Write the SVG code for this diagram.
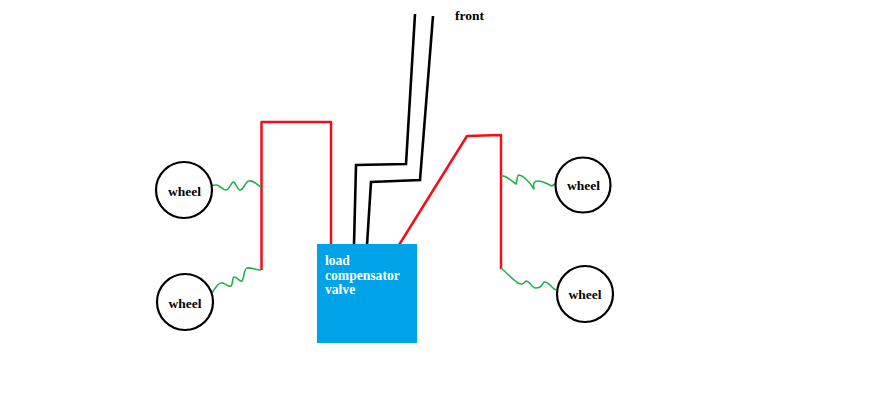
<svg xmlns="http://www.w3.org/2000/svg" width="895" height="400" viewBox="0 0 895 400">
<style>
.w{fill:#fff;stroke:#000;stroke-width:2.2}
.t{font-family:"Liberation Serif",serif;font-weight:bold;font-size:13.500px;fill:#000}
.v{font-family:"Liberation Serif",serif;font-weight:bold;font-size:13.600px;fill:#fff}
.r{fill:none;stroke:#f50d1a;stroke-width:2.500;stroke-linejoin:round}
.k{fill:none;stroke:#000;stroke-width:2.600;stroke-linejoin:miter}
.g{fill:none;stroke:#22b14c;stroke-width:1.600;stroke-linejoin:round}
</style>
<rect width="895" height="400" fill="#fff"/>
<g id="connectors">
<path class="r" d="M261.500 270V122H331V245"/>
<path class="r" d="M399 245L467 136L501 135V269"/>
<path class="k" d="M415 14L406 164L356 165L354 245"/>
<path class="k" d="M433 16L420 180L371 182L367 245"/>
<path class="g" d="M210 186C214 185 217 184 219 186C222 188 224 190 226 190C229 190 231 183 233 182C236 182 237 190 240 190C244 190 245 181 249 181C254 180 257 185 261 187"/>
<path class="g" d="M212 293C215 288 218 283 221 283C224 282 227 287 231 286C233 285 232 277 234 277C237 277 240 282 242 281C244 279 244 268 247 268C251 267 255 270 261 270"/>
<path class="g" d="M501 176C506 175 510 180 516 184C518 177 517 175 519 175C525 176 530 183 534 189C533 183 534 181 538 181C544 181 547 184 552 186L556 183"/>
<path class="g" d="M501 268C507 273 512 279 518 283C523 285 521 284 524 283L526 281C530 281 531 287 535 288C541 288 541 286 544 282C549 281 552 289 556 290"/>
</g>
<g id="wheel-top-left"><circle class="w" cx="184" cy="190" r="28"/><text class="t" x="184.500" y="196" text-anchor="middle">wheel</text></g>
<g id="wheel-bottom-left"><circle class="w" cx="185" cy="302" r="28"/><text class="t" x="185" y="308" text-anchor="middle">wheel</text></g>
<g id="wheel-top-right"><circle class="w" cx="583" cy="185" r="27.500"/><text class="t" x="583.500" y="190" text-anchor="middle">wheel</text></g>
<g id="wheel-bottom-right"><circle class="w" cx="585" cy="294" r="28"/><text class="t" x="585" y="299" text-anchor="middle">wheel</text></g>
<g id="valve"><rect x="317" y="244" width="100" height="99" fill="#00a2e8"/>
<text class="v" x="325" y="265">load</text><text class="v" x="325" y="280">compensator</text><text class="v" x="325" y="294">valve</text></g>
<g id="front"><text class="t" x="455" y="20">front</text></g>
</svg>
